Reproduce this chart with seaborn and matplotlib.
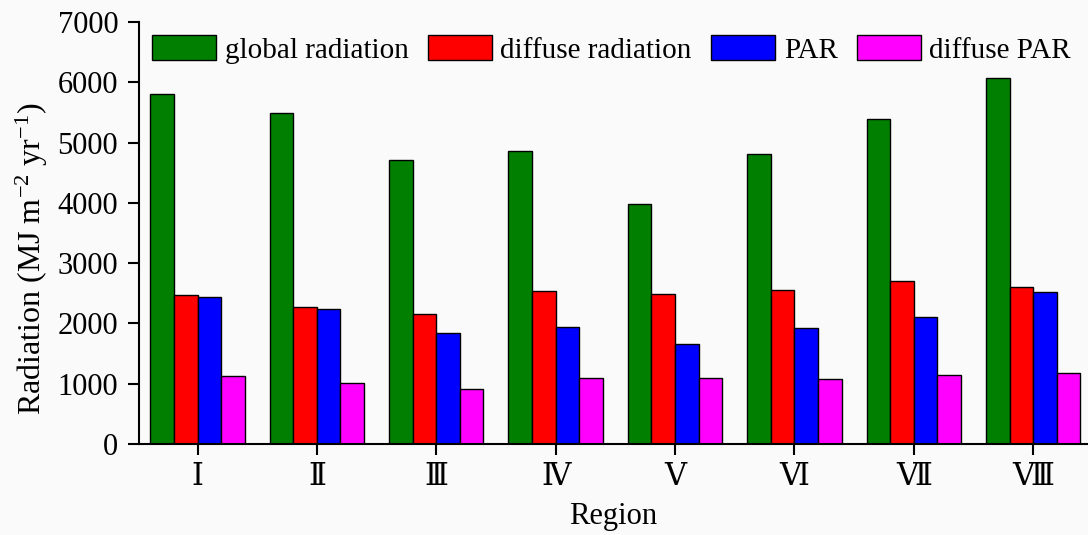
import pandas as pd
import matplotlib
matplotlib.use("Agg")
import matplotlib.pyplot as plt
import seaborn as sns

regions = ["Ⅰ", "Ⅱ", "Ⅲ", "Ⅳ", "Ⅴ", "Ⅵ", "Ⅶ", "Ⅷ"]
series = ["global radiation", "diffuse radiation", "PAR", "diffuse PAR"]
global_rad = [5805, 5496, 4716, 4854, 3986, 4810, 5391, 6076]
diffuse_rad = [2466, 2278, 2151, 2535, 2482, 2549, 2704, 2599]
par = [2433, 2239, 1847, 1946, 1664, 1918, 2112, 2516]
diffuse_par = [1128, 1017, 918, 1095, 1095, 1073, 1139, 1178]
colors = ["#007f00", "#ff0000", "#0000ff", "#ff00ff"]

df = pd.DataFrame({
    "region": regions * 4,
    "type": [s for s in series for _ in regions],
    "value": global_rad + diffuse_rad + par + diffuse_par,
})

sns.set_style("ticks")
plt.rcParams["font.family"] = ["Liberation Serif", "DejaVu Serif"]
plt.rcParams["mathtext.fontset"] = "custom"
plt.rcParams["mathtext.rm"] = "Liberation Serif"
plt.rcParams["mathtext.it"] = "Liberation Serif"
for k in ["text.color", "axes.labelcolor", "xtick.color", "ytick.color", "axes.edgecolor"]:
    plt.rcParams[k] = "black"

fig = plt.figure(figsize=(10.88, 5.35), dpi=100, facecolor="#fafafa")
ax = fig.add_axes([0.1278, 0.170, 0.8722, 0.789])
ax.set_facecolor("#fafafa")

sns.barplot(data=df, x="region", y="value", hue="type", palette=colors,
            saturation=1, width=0.79, edgecolor="black", linewidth=1, ax=ax)

ax.set_xlim(-0.49, 7.46)
ax.set_ylim(0, 7000)
ax.set_yticks(range(0, 7001, 1000))
ax.tick_params(axis="both", labelsize=22, length=8, width=1.5, direction="out")
ax.tick_params(axis="y", pad=7)
ax.tick_params(axis="x", pad=6)
for s in ["top", "right"]:
    ax.spines[s].set_visible(False)
for s in ["left", "bottom"]:
    ax.spines[s].set_linewidth(1.5)

ax.set_xlabel("Region", fontsize=22, labelpad=7)
ax.set_ylabel("Radiation (MJ m$^{-2}$ yr$^{-1}$)", fontsize=23)
ax.yaxis.set_label_coords(-0.094, 0.44)

ax.legend(loc="upper left", bbox_to_anchor=(-0.005, 1.01), ncol=4, frameon=False,
          fontsize=21, handlelength=2.2, handleheight=0.95,
          handletextpad=0.3, columnspacing=0.65, borderaxespad=0.2)

fig.savefig("out.png", dpi=100, facecolor=fig.get_facecolor())
